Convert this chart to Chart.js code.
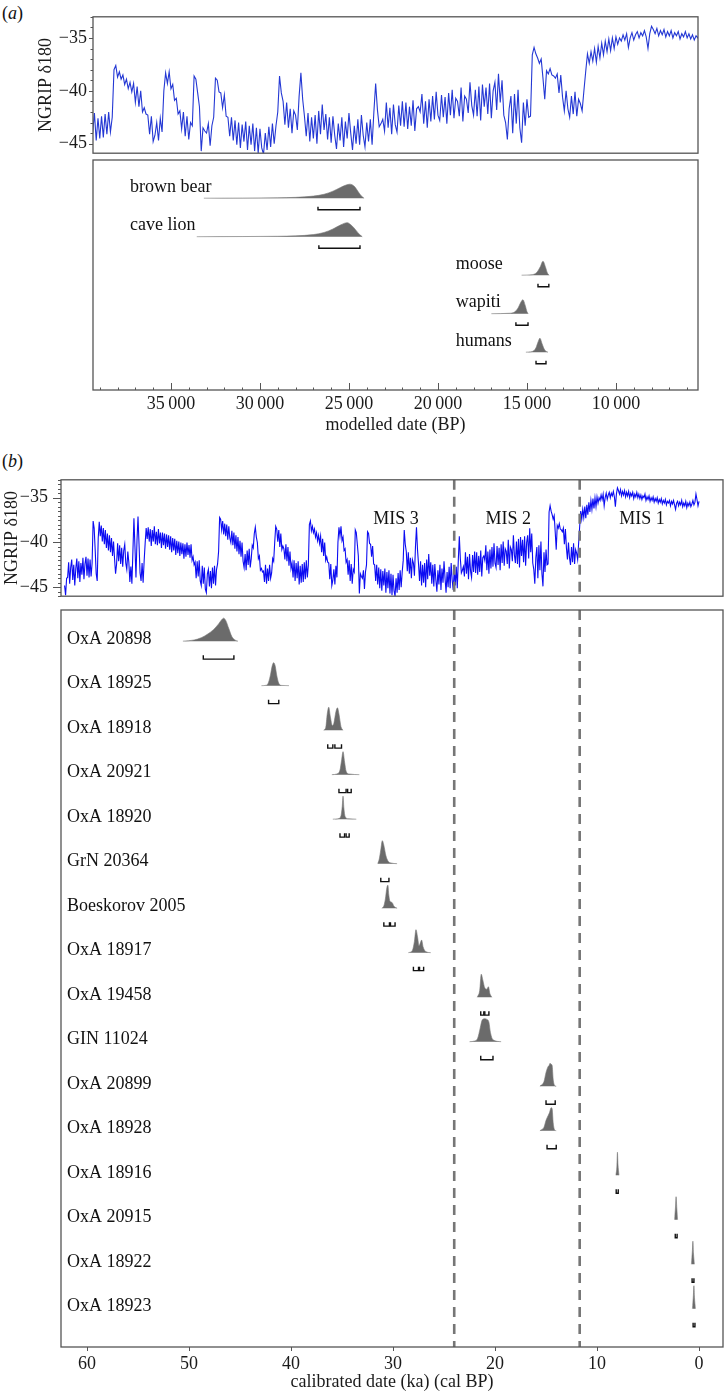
<!DOCTYPE html>
<html>
<head>
<meta charset="utf-8">
<script src="https://cdn.jsdelivr.net/npm/chart.js@4.4.1/dist/chart.umd.min.js"></script>
<style>
  body { margin: 0; background: #fff; width: 726px; height: 1395px; position: relative; overflow: hidden; }
  canvas { position: absolute; left: 0; }
  .tag { position: absolute; font: 18px 'Liberation Serif', serif; color: #111; }
</style>
</head>
<body>
<div class="tag" style="left:2px;top:3px">(<i>a</i>)</div>
<div class="tag" style="left:2px;top:451px">(<i>b</i>)</div>
<canvas id="a1" width="726" height="170" style="top:0"></canvas>
<canvas id="a2" width="726" height="286" style="top:150px"></canvas>
<canvas id="b1" width="726" height="164" style="top:456px"></canvas>
<canvas id="b2" width="726" height="793" style="top:600px"></canvas>
<script>
// NGRIP d18O record, one value every 0.1 ka from 62.2 ka to 0 ka
const ngripStartKa = 62.2;
const ngripStepKa = 0.1;
const ngripD18O = [
  -44.8, -45.9, -44.0,
  -43.9, -42.2, -44.6, -42.8, -41.9, -44.2, -42.5, -44.8, -42.9, -41.8, -44.0, -42.1, -44.4, -42.3, -43.6, -41.7, -44.1, -42.4, -41.6, -43.7, // 61.9
  -41.8, -43.9, -41.9, -43.8, -42.3, -37.6, -38.4, -40.8, -43.5, -44.3, -39.5, -37.7, -39.3, -38.1, -39.9, -38.4, -40.2, -38.6, -40.6, -39.0, // 59.9
  -40.9, -39.2, -41.1, -39.5, -41.5, -39.9, -41.8, -43.5, -42.4, -40.1, -42.1, -40.3, -42.4, -40.6, -42.7, -40.9, -40.2, -42.3, -43.0, -41.0, // 57.9
  -42.2, -44.4, -42.7, -44.6, -41.0, -37.3, -40.5, -43.9, -39.8, -37.1, -40.2, -43.4, -44.3, -42.3, -44.5, -42.1, -40.1, -38.4, -39.6, -38.3, // 55.9
  -39.9, -38.5, -40.4, -38.6, -39.9, -38.2, -40.2, -38.8, -40.3, -38.5, -40.1, -38.9, -40.6, -38.9, -40.3, -39.0, -40.7, -39.1, -40.5, -39.2, // 53.9
  -40.8, -39.3, -41.1, -39.5, -40.9, -39.6, -41.4, -39.8, -41.2, -39.9, -41.5, -40.0, -41.3, -40.1, -41.8, -40.2, -41.6, -40.0, -41.4, -40.3, // 51.9
  -41.7, -40.2, -42.0, -41.6, -42.5, -42.2, -44.0, -42.1, -43.8, -42.0, -44.3, -44.8, -42.6, -44.6, -42.8, -45.2, -45.6, -43.5, -43.0, -44.9, // 49.9
  -43.2, -45.1, -42.8, -44.6, -42.6, -44.8, -43.0, -42.4, -41.0, -37.2, -37.4, -38.6, -37.6, -39.1, -37.9, -39.3, -38.0, -39.7, -38.2, -39.5, // 47.9
  -40.0, -38.7, -40.3, -38.9, -40.7, -39.2, -41.0, -39.4, -41.3, -39.8, -41.6, -40.0, -42.1, -42.8, -41.3, -43.1, -40.9, -42.5, -40.7, -42.8, // 45.9
  -41.8, -40.3, -40.6, -39.0, -38.3, -39.4, -40.0, -41.8, -41.5, -43.1, -42.9, -43.3, -43.2, -44.4, -42.5, -44.6, -42.9, -44.3, -42.5, -44.0, // 43.9
  -43.4, -41.8, -42.1, -40.0, -38.2, -38.5, -39.9, -38.6, -40.5, -39.0, -40.8, -40.4, -40.7, -41.9, -40.2, -42.1, -40.5, -42.6, -41.0, -42.9, // 41.9
  -42.3, -43.9, -42.0, -44.3, -42.3, -44.0, -42.1, -44.7, -42.6, -44.5, -42.4, -44.4, -42.2, -44.1, -42.0, -43.9, -42.5, -38.0, -37.6, -38.7, // 39.9
  -38.2, -38.9, -38.5, -39.4, -38.9, -39.8, -39.2, -40.1, -39.3, -41.1, -39.6, -41.5, -40.0, -42.0, -41.6, -42.2, -42.3, -44.1, -42.4, -44.8, // 37.9
  -44.2, -43.0, -44.7, -42.6, -43.9, -40.0, -38.3, -39.3, -38.2, -39.8, -39.4, -40.9, -40.7, -42.2, -41.9, -43.6, -42.0, -44.3, -42.4, -44.6, // 35.9
  -43.0, -43.3, -38.6, -38.9, -40.2, -41.5, -45.7, -43.5, -43.8, -44.0, -43.1, -45.2, -43.3, -42.5, -38.8, -39.0, -40.1, -40.2, -41.6, -40.4, // 33.9
  -42.4, -42.5, -44.3, -42.5, -44.7, -42.8, -45.1, -43.0, -45.4, -43.2, -44.8, -42.9, -45.6, -43.3, -45.1, -43.1, -45.7, -43.5, -45.9, -43.6, // 31.9
  -45.4, -46.0, -44.0, -45.6, -43.4, -45.3, -43.1, -45.0, -43.3, -42.0, -38.6, -40.2, -41.0, -43.2, -41.1, -43.5, -41.7, -44.0, -41.9, -42.3, // 29.9
  -43.7, -40.5, -38.3, -40.8, -42.4, -44.3, -42.1, -44.8, -42.5, -44.5, -42.3, -45.0, -41.9, -44.1, -41.3, -43.7, -42.2, -44.6, -42.5, -44.9, // 27.9
  -42.4, -44.2, -45.5, -43.1, -44.7, -42.5, -45.3, -42.9, -44.5, -42.1, -44.0, -45.6, -43.3, -45.0, -42.7, -45.1, -42.3, -44.2, -45.3, -43.0, // 25.9
  -44.8, -42.7, -45.1, -42.0, -39.3, -41.8, -43.4, -43.1, -42.7, -43.8, -41.1, -43.5, -41.6, -44.1, -41.3, -43.2, -43.9, -41.4, -43.3, -41.0, // 23.9
  -43.4, -41.1, -43.6, -41.5, -43.3, -40.9, -43.8, -41.7, -41.5, -42.0, -40.3, -43.1, -41.0, -43.5, -40.8, -42.9, -40.5, -42.7, -40.1, -42.3, // 21.9
  -42.8, -40.4, -42.5, -40.6, -43.1, -40.2, -42.3, -39.9, -42.6, -40.7, -41.0, -42.4, -39.7, -42.9, -40.5, -40.8, -42.1, -39.2, -41.4, -42.3, // 19.9
  -39.9, -42.4, -39.6, -42.8, -39.4, -41.5, -39.7, -42.2, -39.3, -42.6, -40.0, -39.2, -41.8, -38.4, -41.1, -39.0, -42.3, -43.0, -44.6, -41.7, // 17.9
  -40.5, -44.0, -40.3, -43.1, -39.9, -43.5, -44.9, -41.1, -43.3, -40.8, -42.5, -42.4, -36.6, -35.9, -36.5, -36.9, -37.4, -37.0, -38.8, -40.8, // 15.9
  -38.1, -38.4, -37.9, -38.5, -38.6, -38.8, -38.4, -40.2, -38.5, -40.6, -41.9, -40.0, -41.7, -42.5, -40.5, -42.2, -40.1, -42.4, -40.8, -41.2, // 13.9
  -41.9, -40.0, -38.2, -36.5, -37.4, -36.3, -37.2, -36.0, -37.3, -35.8, -36.9, -35.5, -36.6, -35.3, -36.3, -35.1, -36.2, -35.0, -36.0, -34.9, // 11.9
  -35.6, -35.0, -35.3, -34.7, -35.2, -34.6, -35.9, -35.0, -34.5, -35.2, -34.7, -34.4, -35.0, -34.5, -34.8, -34.3, -34.9, -36.0, -34.6, -33.9, // 9.9
  -34.2, -34.6, -34.1, -34.8, -34.3, -34.7, -34.2, -34.9, -34.4, -34.8, -34.3, -35.0, -34.5, -34.8, -34.4, -35.1, -34.6, -34.9, -34.4, -35.0, // 7.9
  -34.6, -35.1, -34.7, -35.2, -34.8, -35.0, -34.6, -35.3, -34.9, -35.2, -34.8, -35.4, -35.0, -35.3, -34.9, -35.5, -35.1, -35.4, -35.0, -35.6, // 5.9
  -35.2, -35.5, -35.1, -35.7, -35.3, -35.6, -35.2, -35.8, -35.4, -35.6, -35.3, -35.9, -35.4, -35.7, -35.3, -35.8, -36.3, -35.6, -35.4, -35.9, // 3.9
  -35.5, -35.8, -35.3, -36.0, -35.6, -35.9, -35.4, -36.1, -35.6, -35.9, -35.5, -36.0, -35.7, -35.3, -35.8, -35.5, -34.6, -35.2, -35.9, -35.4  // 1.9
];

const ngripTicks = [-35, -40, -45];
const modelledTicks = [35000, 30000, 25000, 20000, 15000, 10000];
const modelledTickLabels = ['35\u2009000', '30\u2009000', '25\u2009000', '20\u2009000', '15\u2009000', '10\u2009000'];
const calibratedTicks = [60, 50, 40, 30, 20, 10, 0];

// panel (a): modelled dates, years BP, [date, relative probability]
const speciesNames = ['brown bear', 'cave lion', 'moose', 'wapiti', 'humans'];
const speciesLabelAt = [37300, 37300, 19000, 19000, 19000];
const speciesDensity = [
  [[33150, 0], [31000, 0.01], [29000, 0.03], [28000, 0.06], [27000, 0.15], [26400, 0.28], [25900, 0.5], [25500, 0.75], [25200, 0.92], [24950, 1], [24700, 0.85], [24500, 0.5], [24300, 0.15], [24150, 0]],
  [[33550, 0], [31000, 0.01], [29000, 0.03], [28000, 0.06], [27000, 0.15], [26400, 0.3], [25900, 0.55], [25450, 0.85], [25100, 1], [24850, 0.8], [24600, 0.45], [24400, 0.15], [24250, 0]],
  [[15300, 0], [14700, 0.04], [14450, 0.2], [14250, 0.6], [14100, 1], [13950, 0.55], [13850, 0.15], [13750, 0]],
  [[17000, 0], [16000, 0.03], [15700, 0.12], [15500, 0.4], [15350, 0.8], [15225, 1], [15100, 0.6], [15000, 0.15], [14930, 0]],
  [[15060, 0], [14700, 0.05], [14500, 0.3], [14370, 0.75], [14270, 1], [14150, 0.6], [14000, 0.15], [13820, 0]]
];
const speciesRanges = [
  [[26740, 24380]],
  [[26690, 24380]],
  [[14380, 13770]],
  [[15620, 14940]],
  [[14490, 13930]]
];

// panel (b): calibrated dates, ka cal BP
const sampleNames = ['OxA 20898', 'OxA 18925', 'OxA 18918', 'OxA 20921', 'OxA 18920', 'GrN 20364', 'Boeskorov 2005', 'OxA 18917',
  'OxA 19458', 'GIN 11024', 'OxA 20899', 'OxA 18928', 'OxA 18916', 'OxA 20915', 'OxA 18922', 'OxA 18923'];
const sampleDensity = [
  [[50.6, 0], [49.5, 0.05], [48.8, 0.15], [48.2, 0.3], [47.6, 0.5], [47.1, 0.75], [46.8, 0.93], [46.6, 1], [46.4, 0.9], [46.1, 0.55], [45.8, 0.2], [45.5, 0.05], [45.2, 0]],
  [[42.9, 0], [42.4, 0.02], [42.2, 0.15], [42.0, 0.5], [41.85, 0.85], [41.7, 1], [41.55, 0.85], [41.4, 0.45], [41.2, 0.1], [40.9, 0.01], [40.2, 0]],
  [[36.8, 0], [36.6, 0.1], [36.45, 0.7], [36.3, 1], [36.15, 0.6], [35.95, 0.2], [35.8, 0.3], [35.6, 0.8], [35.45, 0.97], [35.3, 0.7], [35.1, 0.15], [34.9, 0]],
  [[36.0, 0], [35.5, 0.03], [35.2, 0.2], [35.05, 0.6], [34.9, 1], [34.75, 0.55], [34.6, 0.15], [34.3, 0.03], [33.3, 0]],
  [[35.9, 0], [35.3, 0.03], [35.1, 0.15], [34.98, 0.55], [34.9, 1], [34.82, 0.5], [34.7, 0.12], [34.4, 0.02], [33.6, 0]],
  [[31.5, 0], [31.35, 0.2], [31.2, 0.6], [31.05, 1], [30.9, 0.8], [30.7, 0.35], [30.5, 0.12], [30.2, 0.03], [29.6, 0]],
  [[31.1, 0], [30.9, 0.1], [30.75, 0.4], [30.6, 0.9], [30.5, 1], [30.42, 0.6], [30.3, 0.3], [30.1, 0.25], [29.9, 0.08], [29.6, 0]],
  [[28.5, 0], [28.1, 0.1], [27.9, 0.5], [27.75, 1], [27.6, 0.7], [27.45, 0.3], [27.3, 0.45], [27.2, 0.55], [27.05, 0.25], [26.8, 0.05], [26.3, 0]],
  [[21.75, 0], [21.5, 0.3], [21.35, 1], [21.2, 0.75], [21.0, 0.4], [20.8, 0.35], [20.65, 0.45], [20.5, 0.15], [20.3, 0]],
  [[22.5, 0], [22.0, 0.03], [21.7, 0.15], [21.45, 0.6], [21.25, 0.95], [21.0, 1], [20.8, 0.97], [20.6, 0.85], [20.45, 0.4], [20.2, 0.08], [19.4, 0]],
  [[15.6, 0], [15.2, 0.2], [15.0, 0.6], [14.8, 0.85], [14.7, 0.9], [14.6, 1], [14.5, 0.95], [14.4, 0.9], [14.3, 0.3], [14.15, 0.03], [14.0, 0]],
  [[15.6, 0], [15.2, 0.15], [15.0, 0.45], [14.8, 0.65], [14.65, 0.8], [14.5, 1], [14.4, 0.95], [14.3, 0.35], [14.15, 0.03], [14.0, 0]],
  [[8.15, 0], [8.05, 0.4], [8.0, 1], [7.95, 0.5], [7.85, 0]],
  [[2.4, 0], [2.3, 0.6], [2.25, 1], [2.18, 0.5], [2.1, 0]],
  [[0.75, 0], [0.65, 0.6], [0.6, 1], [0.55, 0.5], [0.45, 0]],
  [[0.65, 0], [0.55, 0.6], [0.5, 1], [0.45, 0.5], [0.35, 0]]
];
const sampleRanges = [
  [[48.6, 45.6]],
  [[42.2, 41.2]],
  [[36.4, 35.9], [35.7, 35.05]],
  [[35.3, 34.6], [34.45, 34.1]],
  [[35.2, 34.75], [34.6, 34.3]],
  [[31.2, 30.4]],
  [[30.9, 30.35], [30.25, 29.8]],
  [[28.0, 27.5], [27.4, 27.0]],
  [[21.4, 21.1], [21.0, 20.6]],
  [[21.4, 20.2]],
  [[15.0, 14.1]],
  [[14.9, 14.0]],
  [[8.12, 7.92]],
  [[2.33, 2.15]],
  [[0.68, 0.5]],
  [[0.58, 0.4]]
];

const misBoundaries = [24.0, 11.7];
const misNames = ['MIS 3', 'MIS 2', 'MIS 1'];
const misLabelAt = [29.7, 18.7, 5.6];

Chart.defaults.font.family = "'Liberation Serif', 'Times New Roman', serif";
Chart.defaults.font.size = 18;
Chart.defaults.color = '#1a1a1a';

const FRAME = '#555';
const FONT = "18px 'Liberation Serif', serif";

function ngripSeries(mult) {
  return ngripD18O.map((v, i) => ({ x: Math.round((ngripStartKa - i * ngripStepKa) * 10) / 10 * mult, y: v }));
}

function distSets(dens, ranges, h, tickTop, tickBot) {
  const sets = [];
  dens.forEach((pts, i) => {
    const sorted = pts.slice().sort((p, q) => p[0] - q[0]);
    sets.push({
      data: sorted.map(([x, d]) => ({ x, y: i - d * h })),
      fill: { value: i },
      backgroundColor: '#6b6b6b',
      borderColor: 'rgba(120,120,120,0.6)',
      borderWidth: 1,
      pointRadius: 0,
      cubicInterpolationMode: 'monotone'
    });
    ranges[i].forEach(([a, b]) => sets.push({
      data: [{ x: a, y: i + tickTop }, { x: a, y: i + tickBot }, { x: b, y: i + tickBot }, { x: b, y: i + tickTop }],
      borderColor: '#111',
      borderWidth: 1.4,
      pointRadius: 0,
      fill: false,
      tension: 0
    }));
  });
  return sets;
}

function frame(c) {
  const { ctx, chartArea: a } = c;
  ctx.save();
  ctx.strokeStyle = FRAME;
  ctx.lineWidth = 1.3;
  ctx.strokeRect(a.left, a.top, a.right - a.left, a.bottom - a.top);
  ctx.restore();
}

// tick marks on the left of the y axis
function yMarks(c, step, majorEvery, majLen, minLen) {
  const { ctx, chartArea: a, scales: { y } } = c;
  ctx.save();
  ctx.strokeStyle = FRAME;
  ctx.lineWidth = 1;
  ctx.beginPath();
  for (let k = Math.ceil(y.min / step); k * step <= y.max; k++) {
    const v = k * step;
    const py = Math.round(y.getPixelForValue(v)) + 0.5;
    const major = Math.abs(v / majorEvery - Math.round(v / majorEvery)) < 1e-6;
    ctx.moveTo(a.left, py);
    ctx.lineTo(a.left - (major ? majLen : minLen), py);
  }
  ctx.stroke();
  ctx.restore();
}

// tick marks on the x axis, dir -1 = inward (up), 1 = outward (down)
function xMarks(c, step, majorEvery, majLen, minLen, dir) {
  const { ctx, chartArea: a, scales: { x } } = c;
  const lo = Math.min(x.min, x.max), hi = Math.max(x.min, x.max);
  ctx.save();
  ctx.strokeStyle = FRAME;
  ctx.lineWidth = 1;
  ctx.beginPath();
  for (let k = Math.ceil(lo / step); k * step <= hi; k++) {
    const v = k * step;
    const px = Math.round(x.getPixelForValue(v)) + 0.5;
    const major = Math.abs(v / majorEvery - Math.round(v / majorEvery)) < 1e-6;
    const len = major ? majLen : minLen;
    if (!len) continue;
    ctx.moveTo(px, a.bottom);
    ctx.lineTo(px, a.bottom + dir * len);
  }
  ctx.stroke();
  ctx.restore();
}

const base = {
  responsive: false,
  animation: false,
  devicePixelRatio: 1,
  events: [],
  plugins: { legend: { display: false }, tooltip: { enabled: false } }
};

function ngripY(min, width, titlePad, tickPad) {
  return {
    min: min, max: -33,
    afterFit: s => { s.width = width; },
    afterBuildTicks: s => { s.ticks = ngripTicks.map(v => ({ value: v })); },
    grid: { display: false, drawTicks: false },
    border: { display: false },
    ticks: { padding: tickPad, callback: v => '\u2212' + Math.abs(v) },
    title: { display: true, text: 'NGRIP \u03b4180', padding: { top: titlePad, bottom: 0 } }
  };
}

// (a) upper: NGRIP
new Chart(document.getElementById('a1'), {
  type: 'line',
  data: { datasets: [{ data: ngripSeries(1000), borderColor: '#2438d4', borderWidth: 1.1, pointRadius: 0, tension: 0 }] },
  options: {
    ...base,
    layout: { padding: { top: 16, right: 28, bottom: 10, left: 0 } },
    scales: {
      x: { type: 'linear', display: false, min: 5390, max: 39380, reverse: true },
      y: ngripY(-45.9, 93, 35, 6)
    }
  },
  plugins: [{ id: 'a1deco', afterDraw(c) { frame(c); yMarks(c, 1, 5, 4, 2.5); } }]
});

// (a) lower: modelled dates
new Chart(document.getElementById('a2'), {
  type: 'line',
  data: { datasets: distSets(speciesDensity, speciesRanges, 0.364, 0.22, 0.30) },
  options: {
    ...base,
    layout: { padding: { top: 10, right: 28, bottom: 0, left: 93 } },
    scales: {
      x: {
        type: 'linear', min: 5390, max: 39380, reverse: true,
        afterFit: s => { s.height = 46; },
        afterBuildTicks: s => { s.ticks = modelledTicks.map(v => ({ value: v })); },
        grid: { display: false, drawTicks: false },
        border: { display: false },
        ticks: { padding: 3, maxRotation: 0, autoSkip: false, callback: (v, i) => modelledTickLabels[i] },
        title: { display: true, text: 'modelled date (BP)', padding: 0 }
      },
      y: { display: false, min: -0.992, max: 4.982, reverse: true }
    }
  },
  plugins: [{
    id: 'a2deco',
    afterDraw(c) {
      frame(c);
      xMarks(c, 1000, 5000, 7, 2.5, -1);
      const { ctx, scales: { x, y } } = c;
      ctx.save();
      ctx.font = FONT;
      ctx.fillStyle = '#111';
      ctx.textBaseline = 'middle';
      speciesNames.forEach((n, i) => ctx.fillText(n, x.getPixelForValue(speciesLabelAt[i]), y.getPixelForValue(i) - 11));
      ctx.restore();
    }
  }]
});

// (b) upper: NGRIP with MIS boundaries
new Chart(document.getElementById('b1'), {
  type: 'line',
  data: {
    datasets: [
      ...misBoundaries.map(b => ({ data: [{ x: b, y: -33 }, { x: b, y: -46 }], borderColor: '#767676', borderWidth: 2.6, borderDash: [10, 7], pointRadius: 0, order: 0 })),
      { data: ngripSeries(1), borderColor: '#0c0cf2', borderWidth: 1.1, pointRadius: 0, tension: 0, order: 1 }
    ]
  },
  options: {
    ...base,
    layout: { padding: { top: 10, right: 3, bottom: 10, left: 0 } },
    scales: {
      x: { type: 'linear', display: false, min: -2.35, max: 62.55, reverse: true },
      y: ngripY(-46, 61, 1, 13)
    }
  },
  plugins: [{
    id: 'b1deco',
    afterDraw(c) {
      frame(c);
      yMarks(c, 0.5, 5, 8, 3);
      const { ctx, scales: { x, y } } = c;
      ctx.save();
      ctx.font = FONT;
      ctx.fillStyle = '#111';
      ctx.textAlign = 'center';
      ctx.textBaseline = 'middle';
      misNames.forEach((n, i) => ctx.fillText(n, x.getPixelForValue(misLabelAt[i]), y.getPixelForValue(-37.4)));
      ctx.restore();
    }
  }]
});

// (b) lower: calibrated dates
new Chart(document.getElementById('b2'), {
  type: 'line',
  data: {
    datasets: [
      ...misBoundaries.map(b => ({ data: [{ x: b, y: -0.7 }, { x: b, y: 15.86 }], borderColor: '#767676', borderWidth: 2.6, borderDash: [10, 7], pointRadius: 0 })),
      ...distSets(sampleDensity, sampleRanges, 0.517, 0.315, 0.404)
    ]
  },
  options: {
    ...base,
    layout: { padding: { top: 10, right: 3, bottom: 0, left: 61 } },
    scales: {
      x: {
        type: 'linear', min: -2.35, max: 62.55, reverse: true,
        afterFit: s => { s.height = 46; },
        afterBuildTicks: s => { s.ticks = calibratedTicks.map(v => ({ value: v })); },
        grid: { display: false, drawTicks: false },
        border: { display: false },
        ticks: { padding: 6, maxRotation: 0, autoSkip: false },
        title: { display: true, text: 'calibrated date (ka) (cal BP)', padding: 0 }
      },
      y: { display: false, min: -0.7, max: 15.86, reverse: true }
    }
  },
  plugins: [{
    id: 'b2deco',
    afterDraw(c) {
      frame(c);
      xMarks(c, 10, 10, 4, 0, 1);
      const { ctx, chartArea: a, scales: { y } } = c;
      ctx.save();
      ctx.font = FONT;
      ctx.fillStyle = '#111';
      ctx.textBaseline = 'middle';
      sampleNames.forEach((n, i) => ctx.fillText(n, a.left + 6, y.getPixelForValue(i) - 2));
      ctx.restore();
    }
  }]
});
</script>
</body>
</html>
